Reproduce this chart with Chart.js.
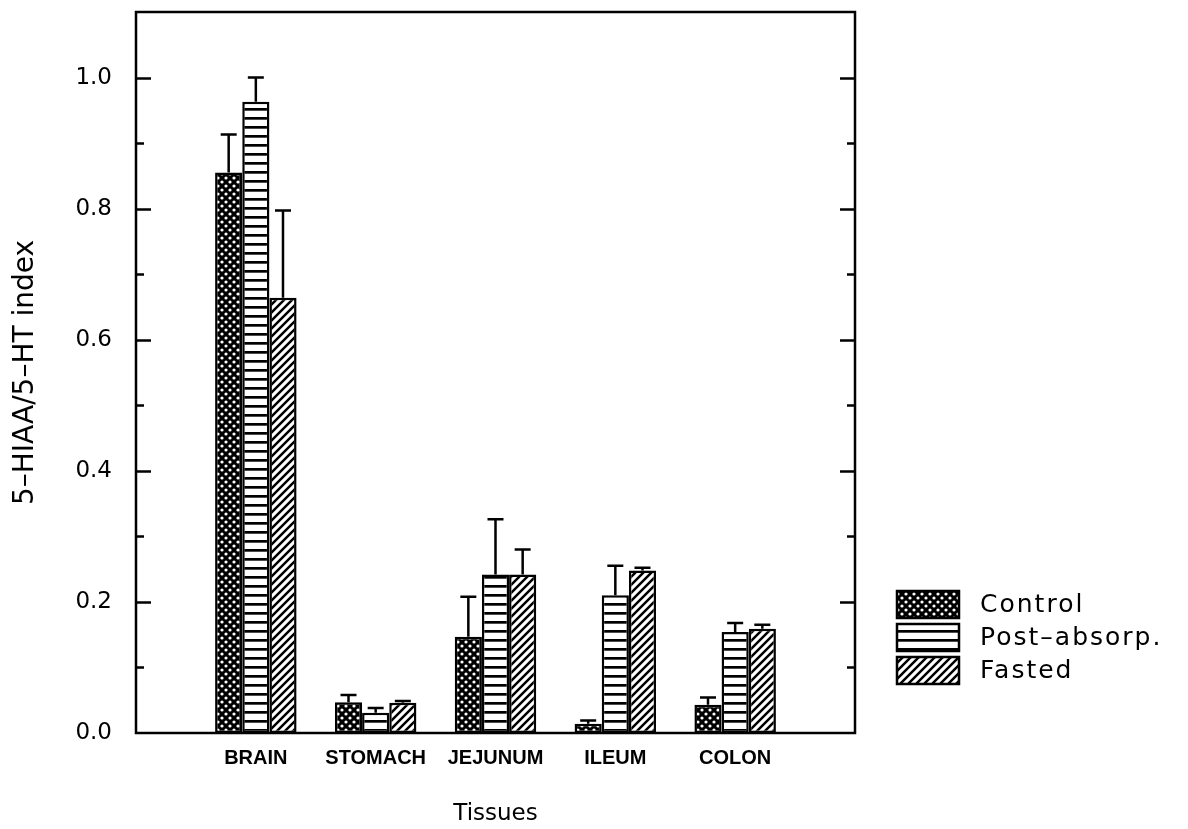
<!DOCTYPE html>
<html>
<head>
<meta charset="utf-8">
<script src="https://cdn.jsdelivr.net/npm/chart.js@4.4.1/dist/chart.umd.min.js"></script>
<style>
    body { margin: 0; background: #fff; }
    #wrap { width: 1188px; height: 829px; }
</style>
</head>
<body>
<div id="wrap"><canvas id="bar_chart"></canvas></div>
<script>
var categories = ['BRAIN', 'STOMACH', 'JEJUNUM', 'ILEUM', 'COLON'];
var seriesNames = ['Control', 'Post–absorp.', 'Fasted'];

var control = [0.855, 0.047, 0.147, 0.014, 0.043];
var controlErr = [0.058, 0.011, 0.061, 0.005, 0.011];
var postAbsorp = [0.963, 0.031, 0.242, 0.210, 0.154];
var postAbsorpErr = [0.037, 0.007, 0.084, 0.045, 0.014];
var fasted = [0.664, 0.046, 0.242, 0.248, 0.159];
var fastedErr = [0.133, 0.003, 0.038, 0.004, 0.006];

var yTickLabels = ['0.0', '0.2', '0.4', '0.6', '0.8', '1.0'];

// empty slot on each side, like the original plot
function pad(arr) {
    return [null].concat(arr, [null]);
}

function makePattern(kind) {
    var c = document.createElement('canvas');
    var g = c.getContext('2d');
    if (kind === 'dots') {
        c.width = 8; c.height = 8;
        g.fillStyle = '#000';
        g.fillRect(0, 0, 8, 8);
        g.fillStyle = '#fff';
        g.beginPath(); g.arc(2, 2, 1.6, 0, Math.PI * 2); g.fill();
        g.beginPath(); g.arc(6, 6, 1.6, 0, Math.PI * 2); g.fill();
    } else if (kind === 'hlines') {
        c.width = 10; c.height = 9;
        g.fillStyle = '#fff';
        g.fillRect(0, 0, 10, 9);
        g.fillStyle = '#000';
        g.fillRect(0, 0, 10, 2.7);
    } else {
        c.width = 8; c.height = 8;
        g.fillStyle = '#fff';
        g.fillRect(0, 0, 8, 8);
        g.strokeStyle = '#000';
        g.lineWidth = 2.5;
        g.beginPath();
        g.moveTo(0, 8); g.lineTo(8, 0);
        g.moveTo(-2, 2); g.lineTo(2, -2);
        g.moveTo(6, 10); g.lineTo(10, 6);
        g.stroke();
    }
    return g.createPattern(c, 'repeat');
}

var errorBars = {
    id: 'errorBars',
    afterDatasetsDraw: function(chart) {
        var ctx = chart.ctx;
        var y = chart.scales.y;
        ctx.save();
        ctx.strokeStyle = '#000';
        ctx.lineWidth = 2.5;
        chart.data.datasets.forEach(function(ds, i) {
            chart.getDatasetMeta(i).data.forEach(function(bar, j) {
                if (ds.data[j] == null) return;
                var top = y.getPixelForValue(ds.data[j] + ds.errors[j]);
                ctx.beginPath();
                ctx.moveTo(bar.x, bar.y);
                ctx.lineTo(bar.x, top);
                ctx.moveTo(bar.x - 8, top);
                ctx.lineTo(bar.x + 8, top);
                ctx.stroke();
            });
        });
        ctx.restore();
    }
};

// box round the plot with inward ticks on left and right
var frame = {
    id: 'frame',
    afterDatasetsDraw: function(chart) {
        var a = chart.chartArea;
        var ctx = chart.ctx;
        var y = chart.scales.y;
        ctx.save();
        ctx.strokeStyle = '#000';
        ctx.lineWidth = 2.5;
        ctx.strokeRect(a.left, a.top, a.right - a.left, a.bottom - a.top);
        ctx.beginPath();
        y.ticks.forEach(function(t) {
            var p = Math.round(y.getPixelForValue(t.value)) + 0.5;
            if (p <= a.top + 2 || p >= a.bottom - 2) return;
            var len = t.label ? 15 : 8;
            ctx.moveTo(a.left, p); ctx.lineTo(a.left + len, p);
            ctx.moveTo(a.right, p); ctx.lineTo(a.right - len, p);
        });
        ctx.stroke();
        ctx.restore();
    }
};

var patternLegend = {
    id: 'patternLegend',
    afterDraw: function(chart) {
        var ctx = chart.ctx;
        var a = chart.chartArea;
        var x = a.right + 42;
        var y0 = a.bottom - 142;
        ctx.save();
        ctx.font = "25px 'DejaVu Sans'";
        ctx.letterSpacing = '2px';
        ctx.textBaseline = 'middle';
        chart.data.datasets.forEach(function(ds, i) {
            var y = y0 + i * 33;
            ctx.fillStyle = ds.backgroundColor;
            ctx.fillRect(x, y, 62, 27);
            ctx.lineWidth = 2.5;
            ctx.strokeStyle = '#000';
            ctx.strokeRect(x, y, 62, 27);
            ctx.fillStyle = '#000';
            ctx.fillText(ds.label, x + 83, y + 14);
        });
        ctx.restore();
    }
};

var chart_data = {
    labels: [''].concat(categories, ['']),
    datasets: [{
        label: seriesNames[0],
        data: pad(control),
        errors: pad(controlErr),
        backgroundColor: makePattern('dots')
    }, {
        label: seriesNames[1],
        data: pad(postAbsorp),
        errors: pad(postAbsorpErr),
        backgroundColor: makePattern('hlines')
    }, {
        label: seriesNames[2],
        data: pad(fasted),
        errors: pad(fastedErr),
        backgroundColor: makePattern('diag')
    }]
};

chart_data.datasets.forEach(function(ds) {
    ds.borderColor = '#000';
    ds.borderWidth = 2.5;
    ds.borderSkipped = false;
    ds.categoryPercentage = 0.68;
    ds.barPercentage = 1.0;
});

var graph = new Chart(document.getElementById('bar_chart'), {
    type: 'bar',
    data: chart_data,
    plugins: [errorBars, frame, patternLegend],
    options: {
        responsive: true,
        maintainAspectRatio: false,
        animation: false,
        layout: { padding: { top: 12, right: 333, bottom: 0, left: 0 } },
        plugins: {
            legend: { display: false },
            tooltip: { enabled: false }
        },
        scales: {
            x: {
                offset: false,
                grid: { display: false, drawTicks: false },
                border: { display: false },
                ticks: {
                    autoSkip: false,
                    maxRotation: 0,
                    padding: 13,
                    color: '#000',
                    font: { family: "'Liberation Sans', Arial", size: 20, weight: 'bold' }
                },
                title: {
                    display: true,
                    text: 'Tissues',
                    color: '#000',
                    font: { family: "'DejaVu Sans'", size: 23 },
                    padding: { top: 0, bottom: 1 }
                },
                afterFit: function(s) {
                    s.height = 96;
                    s.paddingLeft = 0;
                    s.paddingRight = 0;
                }
            },
            y: {
                min: 0,
                max: 1.1,
                grid: { display: false, drawTicks: false },
                border: { display: false },
                ticks: {
                    stepSize: 0.1,
                    padding: 24,
                    color: '#000',
                    font: { family: "'DejaVu Sans'", size: 23 },
                    callback: function(v) {
                        var s = v.toFixed(1);
                        return yTickLabels.indexOf(s) >= 0 ? s : '';
                    }
                },
                title: {
                    display: true,
                    text: '5–HIAA/5–HT index',
                    color: '#000',
                    font: { family: "'DejaVu Sans'", size: 28 },
                    padding: { top: 9, bottom: 0 }
                },
                afterFit: function(s) {
                    s.width = 136;
                    s.paddingTop = 0;
                    s.paddingBottom = 0;
                }
            }
        }
    }
});
</script>
</body>
</html>
